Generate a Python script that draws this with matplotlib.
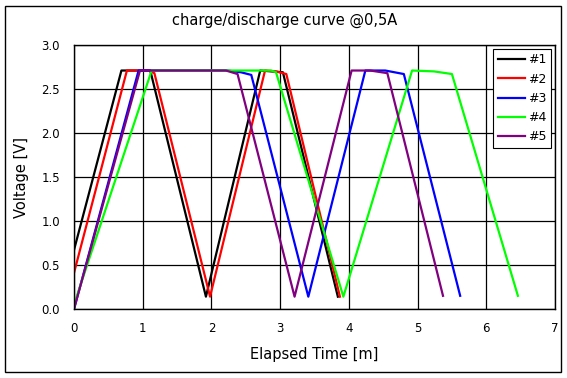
import matplotlib
matplotlib.use("Agg")
import matplotlib.pyplot as plt
from matplotlib.patches import Rectangle

# Data (time in minutes, voltage in V)
t1 = [0.0, 0.69, 1.11, 1.92, 2.71, 3.04, 3.84]
v1 = [0.67, 2.71, 2.71, 0.14, 2.71, 2.69, 0.14]

t2 = [0.0, 0.77, 1.08, 1.17, 1.98, 2.78, 2.94, 3.09, 3.87]
v2 = [0.41, 2.71, 2.71, 2.68, 0.14, 2.71, 2.70, 2.67, 0.14]

t3 = [0.0, 0.94, 2.23, 2.43, 2.58, 3.41, 4.24, 4.53, 4.80, 5.62]
v3 = [0.0, 2.71, 2.71, 2.69, 2.66, 0.14, 2.71, 2.71, 2.67, 0.15]

t4 = [0.0, 1.13, 2.87, 2.94, 3.92, 4.92, 5.24, 5.50, 6.46]
v4 = [0.05, 2.71, 2.71, 2.69, 0.14, 2.71, 2.70, 2.67, 0.15]

t5 = [0.0, 0.96, 2.21, 2.38, 3.21, 4.04, 4.31, 4.56, 5.37]
v5 = [0.0, 2.71, 2.71, 2.67, 0.14, 2.71, 2.71, 2.68, 0.15]

series = [(t1, v1, "#1", "#000000"),
          (t2, v2, "#2", "#FF0000"),
          (t3, v3, "#3", "#0000FF"),
          (t4, v4, "#4", "#00FF00"),
          (t5, v5, "#5", "#800080")]

xticks = [0, 1, 2, 3, 4, 5, 6, 7]
yticks = [0.0, 0.5, 1.0, 1.5, 2.0, 2.5, 3.0]

plt.rcParams['font.family'] = ['DejaVu Sans']

W, H = 567, 378
fig = plt.figure(figsize=(W/100, H/100), dpi=100)
fig.patches.append(Rectangle((5/W, 6/H), 556/W, 366/H, transform=fig.transFigure,
                             fill=False, edgecolor='black', linewidth=1.0))
ax = fig.add_axes([74/W, (H-309)/H, (555-74)/W, (309-45)/H])

for t, v, lab, c in series:
    ax.plot(t, v, color=c, linewidth=1.6, label=lab)

ax.set_xlim(0, 7)
ax.set_ylim(0, 3.0)
ax.set_xticks(xticks)
ax.set_yticks(yticks)
ax.set_yticklabels([f"{y:.1f}" for y in yticks])
ax.tick_params(axis='y', length=0, labelsize=8.5, pad=10)
ax.tick_params(axis='x', length=0, labelsize=8.5, pad=9)
ax.grid(True, color='black', linewidth=0.9)
for s in ax.spines.values():
    s.set_linewidth(1.0)
    s.set_color('black')

ax.set_xlabel("Elapsed Time [m]", fontsize=10.5, labelpad=9)
ax.set_ylabel("Voltage [V]", fontsize=10.5, labelpad=9)
fig.text(285/W, 1 - 20/H, "charge/discharge curve @0,5A", fontsize=10.5,
         ha='center', va='center')

leg = ax.legend(loc='upper right', fontsize=9, frameon=True, fancybox=False,
                edgecolor='black', framealpha=1, handlelength=2.2,
                handletextpad=0.25, borderpad=0.35, borderaxespad=0.32,
                labelspacing=0.5)
leg.get_frame().set_linewidth(0.8)

fig.savefig("out.png", dpi=100)
